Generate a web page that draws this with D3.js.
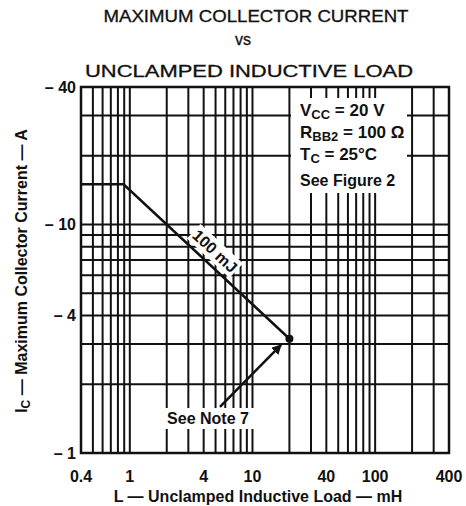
<!DOCTYPE html>
<html>
<head>
<meta charset="utf-8">
<script src="https://cdn.jsdelivr.net/npm/d3@7"></script>
<style>
  body { margin: 0; background: #fff; }
  text { font-family: "Liberation Sans", Arial, sans-serif; fill: #111; }
</style>
</head>
<body>
<script>
// data
var xTicks = [0.4, 1, 4, 10, 40, 100, 400];
var yTicks = [1, 4, 10, 40];
var curveL = [0.4, 0.889, 20];       // mH
var curveI = [15, 15, 3.162];        // A
var arrowL = [5.43, 17.1];
var arrowI = [1.59, 2.97];

// set the dimensions and margins of the graph
var margin = {top: 87, right: 17, bottom: 53, left: 81},
    width = 466 - margin.left - margin.right,
    height = 506 - margin.top - margin.bottom;

var x = d3.scaleLog().domain([0.4, 400]).range([0, width]);
var y = d3.scaleLog().domain([1, 40]).range([height, 0]);

var root = d3.select("body").append("svg")
    .attr("width", 466)
    .attr("height", 506);

var svg = root.append("g")
    .attr("transform", "translate(" + margin.left + "," + margin.top + ")");

// log grid: every 1..9 in each decade
var xGrid = [], yGrid = [];
[0.1, 1, 10, 100].forEach(function(d) {
  for (var k = 1; k < 10; k++) {
    var v = +(d * k).toPrecision(3);
    if (v > 0.4 && v < 400) xGrid.push(v);
    if (v > 1 && v < 40) yGrid.push(v);
  }
});

svg.selectAll(".vgrid")
    .data(xGrid)
  .enter().append("line")
    .attr("x1", function(d) { return x(d); })
    .attr("x2", function(d) { return x(d); })
    .attr("y1", 0).attr("y2", height)
    .attr("stroke", "#111").attr("stroke-width", 2);

svg.selectAll(".hgrid")
    .data(yGrid)
  .enter().append("line")
    .attr("y1", function(d) { return y(d); })
    .attr("y2", function(d) { return y(d); })
    .attr("x1", 0).attr("x2", width)
    .attr("stroke", "#111").attr("stroke-width", 2);

// white boxes behind the notes
root.append("rect").attr("x", 291).attr("y", 98).attr("width", 116).attr("height", 95).attr("fill", "#fff");
root.append("rect").attr("x", 164).attr("y", 408).attr("width", 92).attr("height", 21).attr("fill", "#fff");

// frame
svg.append("rect")
    .attr("width", width).attr("height", height)
    .attr("fill", "none").attr("stroke", "#111").attr("stroke-width", 2.5);

// the 100 mJ curve
var line = d3.line()
    .x(function(d) { return x(d[0]); })
    .y(function(d) { return y(d[1]); });

svg.append("path")
    .datum(d3.zip(curveL, curveI))
    .attr("d", line)
    .attr("fill", "none").attr("stroke", "#111").attr("stroke-width", 2.5);

svg.append("circle")
    .attr("cx", x(curveL[2])).attr("cy", y(curveI[2]))
    .attr("r", 4).attr("fill", "#111");

// arrow to the end point
root.append("defs").append("marker")
    .attr("id", "ah").attr("viewBox", "0 0 10 10")
    .attr("refX", 9).attr("refY", 5)
    .attr("markerWidth", 4).attr("markerHeight", 4)
    .attr("orient", "auto")
  .append("path").attr("d", "M0,0L10,5L0,10z").attr("fill", "#111");

svg.append("path")
    .datum(d3.zip(arrowL, arrowI))
    .attr("d", line)
    .attr("stroke", "#111").attr("stroke-width", 2.5)
    .attr("marker-end", "url(#ah)");

// 100 mJ label along the line
var ang = Math.atan2(y(curveI[2]) - y(curveI[1]), x(curveL[2]) - x(curveL[1])) * 180 / Math.PI;
var lbl = svg.append("g")
    .attr("transform", "translate(" + (215 - margin.left) + "," + (251 - margin.top) + ") rotate(" + ang + ")");
lbl.append("rect").attr("x", -29).attr("y", -10).attr("width", 58).attr("height", 20).attr("fill", "#fff");
lbl.append("text")
    .attr("text-anchor", "middle").attr("dy", "0.36em")
    .attr("font-size", 16).attr("font-weight", "bold")
    .text("100 mJ");

// tick labels
svg.selectAll(".xlab")
    .data(xTicks)
  .enter().append("text")
    .attr("x", function(d) { return x(d); })
    .attr("y", 482 - margin.top)
    .attr("text-anchor", "middle")
    .attr("font-size", 16).attr("font-weight", "bold")
    .text(function(d) { return d; });

svg.selectAll(".ylab")
    .data(yTicks)
  .enter().append("text")
    .attr("x", -5)
    .attr("y", function(d) { return y(d); })
    .attr("dy", "0.36em")
    .attr("text-anchor", "end")
    .attr("font-size", 16).attr("font-weight", "bold")
    .text(function(d) { return "\u2013 " + d; });

// titles
var titles = [
  {t: "MAXIMUM COLLECTOR CURRENT", x: 256, y: 22, w: 305},
  {t: "vs", x: 243, y: 45, w: 0},
  {t: "UNCLAMPED INDUCTIVE LOAD", x: 249, y: 77, w: 328}
];
titles.forEach(function(d) {
  var t = root.append("text")
      .attr("x", d.x).attr("y", d.y)
      .attr("text-anchor", "middle")
      .attr("font-size", 16)
      .attr("stroke", "#111").attr("stroke-width", 0.3)
      .text(d.t);
  if (d.w) t.attr("textLength", d.w).attr("lengthAdjust", "spacingAndGlyphs");
});

root.append("text")
    .attr("x", 258).attr("y", 502)
    .attr("text-anchor", "middle")
    .attr("font-size", 16).attr("font-weight", "bold")
    .text("L \u2014 Unclamped Inductive Load \u2014 mH");

var yt = root.append("text")
    .attr("transform", "translate(27,271) rotate(-90)")
    .attr("text-anchor", "middle")
    .attr("font-size", 16).attr("font-weight", "bold");
yt.append("tspan").text("I");
yt.append("tspan").attr("font-size", 12).attr("dy", 3).text("C");
yt.append("tspan").attr("dy", -3).text(" \u2014 Maximum Collector Current \u2014 A");

// conditions note
var note = root.append("g").attr("font-weight", "bold").attr("font-size", 17);
function noteLine(yy, main, sub, rest) {
  var t = note.append("text").attr("x", 300).attr("y", yy);
  t.append("tspan").text(main);
  if (sub) {
    t.append("tspan").attr("font-size", 13).attr("dy", 3).text(sub);
    t.append("tspan").attr("dy", -3).text(rest);
  }
  return t;
}
noteLine(116, "V", "CC", " = 20 V");
noteLine(138, "R", "BB2", " = 100 \u03A9");
noteLine(160, "T", "C", " = 25\u00B0C");
noteLine(186, "See Figure 2").attr("font-size", 16);

root.append("text")
    .attr("x", 208).attr("y", 424)
    .attr("text-anchor", "middle")
    .attr("font-size", 16).attr("font-weight", "bold")
    .text("See Note 7");
</script>
</body>
</html>
